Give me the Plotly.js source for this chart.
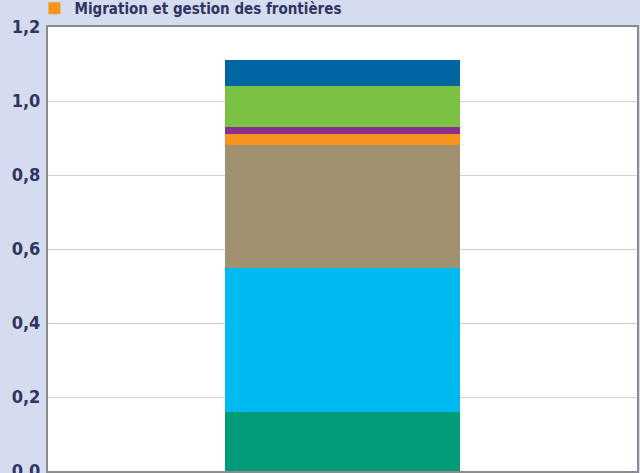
<!DOCTYPE html>
<html>
<head>
<meta charset="utf-8">
<script src="https://cdn.plot.ly/plotly-3.0.1.min.js"></script>
<style>
  html, body { margin: 0; padding: 0; background: #d6dcef; }
  #chart { width: 640px; height: 473px; }
</style>
</head>
<body>
<div id="chart"></div>
<script>
// Single stacked bar, segments from bottom to top
var category = [""];
var seriesNames = [
  "Segment 1",
  "Segment 2",
  "Segment 3",
  "Migration et gestion des frontières",
  "Segment 5",
  "Segment 6",
  "Segment 7"
];
var seriesValues = [0.16, 0.39, 0.33, 0.03, 0.02, 0.11, 0.07];
var seriesColors = ["#009b78", "#00b9f1", "#a09171", "#f7941d", "#8a2f8f", "#7cc242", "#0066a1"];
var seriesInLegend = [false, false, false, true, false, false, false];
var yTickValues = [0, 0.2, 0.4, 0.6, 0.8, 1.0, 1.2];

var traces = seriesNames.map(function (name, i) {
  return {
    type: "bar",
    name: name,
    x: category,
    y: [seriesValues[i]],
    width: 0.4,
    marker: { color: seriesColors[i], line: { width: 0 } },
    showlegend: seriesInLegend[i],
    hoverinfo: "name+y"
  };
});

var fontFam = "DejaVu Sans Condensed, Liberation Sans Narrow, sans-serif";
var layout = {
  width: 640,
  height: 473,
  barmode: "stack",
  separators: ", ",
  paper_bgcolor: "#d6dcef",
  plot_bgcolor: "#ffffff",
  margin: { l: 48, r: 3, t: 27, b: 2, autoexpand: false },
  showlegend: true,
  legend: {
    orientation: "h",
    x: -0.023, xanchor: "left",
    xref: "paper",
    yref: "paper",
    y: 1.079, yanchor: "top",
    bgcolor: "rgba(0,0,0,0)",
    font: { family: fontFam, size: 15, color: "#2e3560", weight: "bold" }
  },
  xaxis: {
    type: "category",
    range: [-0.5, 0.5],
    showticklabels: false,
    showgrid: false,
    zeroline: false,
    showline: true,
    linecolor: "#8c8c8c",
    linewidth: 2,
    mirror: true,
    fixedrange: true
  },
  yaxis: {
    range: [0, 1.2],
    tickvals: yTickValues,
    tickformat: ".1f",
    ticklabeloverflow: "allow",
    showgrid: true,
    gridcolor: "#d0d0d0",
    gridwidth: 1,
    zeroline: false,
    showline: true,
    linecolor: "#8c8c8c",
    linewidth: 2,
    mirror: true,
    ticks: "",
    ticklabelstandoff: 2,
    tickfont: { family: fontFam, size: 18, color: "#2e3560", weight: "bold" },
    fixedrange: true
  }
};

Plotly.newPlot("chart", traces, layout, { displayModeBar: false, staticPlot: true });
</script>
</body>
</html>
